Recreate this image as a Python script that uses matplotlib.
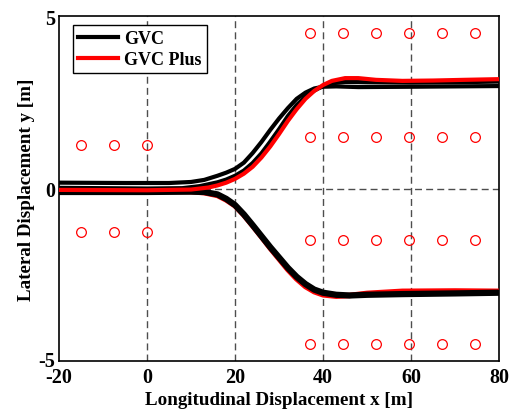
#!/usr/bin/env python3
from matplotlib import pyplot as plt
from matplotlib import transforms

# trajectory samples
gvc_up_a_x = [-20, -5, 5, 10, 13, 16, 18, 20, 22, 24, 26, 28, 30, 32, 34, 36, 38, 40, 43, 48, 60, 70, 80]
gvc_up_a_y = [0.17, 0.16, 0.16, 0.19, 0.25, 0.37, 0.46, 0.57, 0.75, 1.03, 1.35, 1.7, 2.03, 2.33, 2.6, 2.78,
              2.9, 2.95, 2.96, 2.94, 2.95, 2.96, 2.97]

gvc_up_b_x = [-20, 0, 8, 12, 16, 18, 20, 22, 24, 26, 28, 30, 32, 34, 36, 38, 40, 42, 45, 50, 60, 70, 80]
gvc_up_b_y = [0.02, 0.0, 0.01, 0.07, 0.18, 0.26, 0.37, 0.52, 0.74, 1.02, 1.36, 1.72, 2.1, 2.42, 2.66, 2.84,
              2.97, 3.05, 3.09, 3.08, 3.07, 3.08, 3.1]

plus_up_x = [-20, 0, 10, 14, 16, 18, 20, 22, 24, 26, 28, 30, 32, 34, 36, 38, 40, 42, 45, 48, 52, 58, 65, 72, 80]
plus_up_y = [-0.04, -0.05, -0.03, 0.03, 0.09, 0.17, 0.28, 0.43, 0.63, 0.9, 1.22, 1.58, 1.96, 2.3, 2.6, 2.83,
             3.0, 3.12, 3.2, 3.2, 3.15, 3.12, 3.13, 3.15, 3.17]

gvc_lo_x = [-20, 0, 10, 13, 16, 18, 20, 22, 24, 26, 28, 30, 32, 34, 36, 38, 40, 43, 46, 50, 58, 70, 80]
gvc_lo_y = [-0.1, -0.1, -0.09, -0.1, -0.17, -0.3, -0.48, -0.75, -1.06, -1.38, -1.7, -2.0, -2.3, -2.56, -2.77,
            -2.93, -3.02, -3.08, -3.1, -3.08, -3.06, -3.04, -3.02]

plus_lo_x = [-20, 0, 10, 13, 16, 18, 20, 22, 24, 26, 28, 30, 32, 34, 36, 38, 40, 43, 46, 50, 58, 70, 80]
plus_lo_y = [-0.06, -0.08, -0.09, -0.12, -0.2, -0.33, -0.5, -0.77, -1.08, -1.4, -1.73, -2.04, -2.35, -2.62,
             -2.84, -2.99, -3.08, -3.12, -3.1, -3.04, -2.98, -2.97, -2.98]

# cones
cone_left_x = [-15, -7.5, 0]
cone_left_y = [1.25, -1.25]
cone_right_x = [37, 44.5, 52, 59.5, 67, 74.5]
cone_right_y = [4.5, 1.5, -1.5, -4.5]

plt.rcParams['font.family'] = ['Liberation Serif', 'DejaVu Serif']
plt.rcParams['font.weight'] = 'bold'
plt.rcParams['axes.unicode_minus'] = False

fig = plt.figure(figsize=(5.13, 4.10), dpi=100)
ax = fig.add_axes([0.115, 0.117, 0.858, 0.8415])

grid_kw = dict(color='0.3', linestyle=(0, (5, 3)), linewidth=1.0, zorder=1)
for gx in [0, 20, 40, 60]:
    ax.axvline(gx, **grid_kw)
ax.axhline(0, **grid_kw)

for cy in cone_left_y:
    ax.plot(cone_left_x, [cy] * len(cone_left_x), 'o', mfc='none', mec='red', ms=7, mew=0.9, zorder=2)
for cy in cone_right_y:
    ax.plot(cone_right_x, [cy] * len(cone_right_x), 'o', mfc='none', mec='red', ms=7, mew=0.9, zorder=2)

ax.plot(plus_lo_x, plus_lo_y, color='red', lw=4, zorder=3)
ax.plot(gvc_lo_x, gvc_lo_y, color='black', lw=4.5, zorder=4)
ax.plot(gvc_up_a_x, gvc_up_a_y, color='black', lw=3, zorder=4, label='GVC')
ax.plot(gvc_up_b_x, gvc_up_b_y, color='black', lw=3, zorder=4)
ax.plot(plus_up_x, plus_up_y, color='red', lw=3, zorder=5, label='GVC Plus')

ax.set_xlim(-20, 80)
ax.set_ylim(-5, 5)
ax.set_xticks([-20, 0, 20, 40, 60, 80])
ax.set_yticks([-5, 0, 5])
ax.tick_params(length=0, labelsize=14.5)
ax.tick_params(axis='x', pad=4.5)
ax.tick_params(axis='y', pad=3)
ax.set_xlabel('Longitudinal Displacement x [m]', fontsize=13.7, fontweight='bold', labelpad=2.5)
ax.set_ylabel('Lateral Displacement y [m]', fontsize=13.7, fontweight='bold', labelpad=2)
for s in ax.spines.values():
    s.set_linewidth(1.2)

# nudge the bottom y label up a little so it only touches "-20"
fig.canvas.draw()
lab = ax.get_yticklabels()[0]
lab.set_transform(lab.get_transform() + transforms.ScaledTranslation(0, 3 / 100, fig.dpi_scale_trans))

leg = ax.legend(loc='upper left', fontsize=13, frameon=True, fancybox=False, edgecolor='black',
                framealpha=1, handlelength=2.2, handletextpad=0.3, borderpad=0.3, labelspacing=0.2,
                borderaxespad=0, bbox_to_anchor=(0.032, 0.974))
leg.get_frame().set_linewidth(1.0)
for h in leg.get_lines():
    h.set_linewidth(3)

fig.savefig('out.png', dpi=100)
